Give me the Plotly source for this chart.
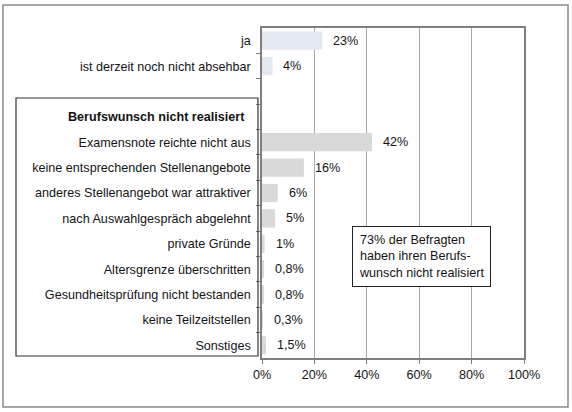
import plotly.graph_objects as go

# ---- data ----
top_labels = ["ja", "ist derzeit noch nicht absehbar"]
top_values = [23, 4]
top_text = ["23%", "4%"]

header_label = "Berufswunsch nicht realisiert"

reason_labels = [
    "Examensnote reichte nicht aus",
    "keine entsprechenden Stellenangebote",
    "anderes Stellenangebot war attraktiver",
    "nach Auswahlgespräch abgelehnt",
    "private Gründe",
    "Altersgrenze überschritten",
    "Gesundheitsprüfung nicht bestanden",
    "keine Teilzeitstellen",
    "Sonstiges",
]
reason_values = [42, 16, 6, 5, 1, 0.8, 0.8, 0.3, 1.5]
reason_text = ["42%", "16%", "6%", "5%", "1%", "0,8%", "0,8%", "0,3%", "1,5%"]

x_ticks = [0, 20, 40, 60, 80, 100]
x_ticktext = ["0%", "20%", "40%", "60%", "80%", "100%"]

note_text = "73% der Befragten<br>haben ihren Berufs-<br>wunsch nicht realisiert"

# ---- row positions (0 = top row) ----
top_pos = [0, 1]
header_pos = 3
reason_pos = list(range(4, 4 + len(reason_labels)))
n_rows = 4 + len(reason_labels)

FONT = "Liberation Sans, Arial, sans-serif"
TXT = "#141414"
FS = 12.6

W, H = 572, 412
L, R, T, B = 262, 524, 28, 358  # plot area in pixels


def px(xp):
    return (xp - L) / (R - L)


def py(yp):
    return (B - yp) / (B - T)


fig = go.Figure()
fig.add_trace(go.Bar(
    y=top_pos, x=top_values, orientation="h", width=0.72,
    marker=dict(color="#e3e8f1", line=dict(width=0)),
    hoverinfo="skip", showlegend=False,
))
fig.add_trace(go.Bar(
    y=reason_pos, x=reason_values, orientation="h", width=0.72,
    marker=dict(color="#d9d9d9", line=dict(width=0)),
    hoverinfo="skip", showlegend=False,
))

annotations = []
for pos, val, txt in zip(top_pos + reason_pos, top_values + reason_values, top_text + reason_text):
    annotations.append(dict(
        x=val, y=pos, xref="x", yref="y", text=txt, showarrow=False,
        xanchor="left", yanchor="middle", xshift=9,
        font=dict(family=FONT, size=FS, color=TXT),
    ))

annotations.append(dict(
    x=px(247), y=header_pos, xref="paper", yref="y", text="<b>" + header_label + "</b>",
    showarrow=False, xanchor="right", yanchor="middle",
    font=dict(family=FONT, size=FS, color=TXT),
))

annotations.append(dict(
    x=px(352), y=py(226), xref="paper", yref="paper", text=note_text,
    showarrow=False, xanchor="left", yanchor="top", align="left",
    bordercolor="#222222", borderwidth=1, borderpad=6, bgcolor="white",
    font=dict(family=FONT, size=FS, color=TXT),
))

shapes = [
    # left box around reasons
    dict(type="rect", xref="paper", yref="paper",
         x0=px(16), x1=px(258), y0=py(356), y1=py(98),
         line=dict(color="#333333", width=1.2), layer="above"),
    # outer frame
    dict(type="rect", xref="paper", yref="paper",
         x0=px(3), x1=px(568), y0=py(407), y1=py(5),
         line=dict(color="#8a8a8a", width=1.5), layer="above"),
]

tickvals = top_pos + reason_pos
ticktext = top_labels + reason_labels

fig.update_layout(
    width=W, height=H,
    margin=dict(l=L, r=W - R, t=T, b=H - B, pad=0),
    paper_bgcolor="white", plot_bgcolor="white",
    font=dict(family=FONT, size=FS, color=TXT),
    annotations=annotations, shapes=shapes,
    bargap=0.28,
    xaxis=dict(
        range=[0, 100], tickvals=x_ticks, ticktext=x_ticktext,
        showgrid=True, gridcolor="#a8a8a8", gridwidth=1,
        showline=True, linecolor="#7f7f7f", linewidth=1.5, mirror=True,
        ticks="outside", ticklen=4, tickcolor="#7f7f7f",
        zeroline=False, tickfont=dict(family=FONT, size=FS, color=TXT),
        fixedrange=True,
    ),
    yaxis=dict(
        range=[n_rows - 0.5, -0.5], tickvals=tickvals, ticktext=ticktext,
        showgrid=False, zeroline=False,
        showline=True, linecolor="#7f7f7f", linewidth=1.5, mirror=True,
        ticks="", ticklabelstandoff=7,
        minor=dict(tickmode="array", tickvals=[i + 0.5 for i in range(n_rows - 1)],
                   ticks="outside", ticklen=4, tickcolor="#7f7f7f", showgrid=False),
        tickfont=dict(family=FONT, size=FS, color=TXT),
        fixedrange=True,
    ),
)

fig.write_html(
    "out.html",
    config={"displayModeBar": False},
    post_script="document.body.style.margin='0';document.body.style.overflow='hidden';",
)
